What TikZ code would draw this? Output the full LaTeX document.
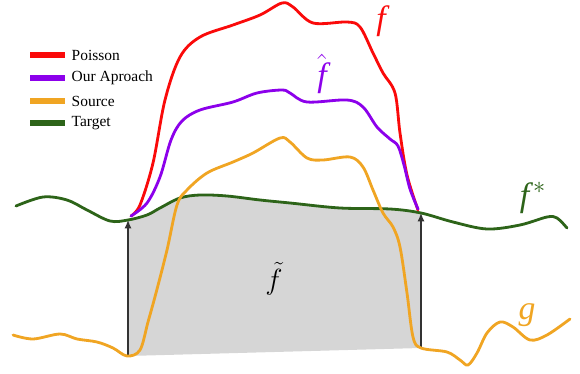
\documentclass[tikz,border=0pt]{standalone}
\usepackage{fontspec}
\setmainfont{Liberation Serif}
\usetikzlibrary{arrows.meta}

\definecolor{poissonred}{RGB}{250,10,10}
\definecolor{oursviolet}{RGB}{140,0,235}
\definecolor{sourceorange}{RGB}{240,165,35}
\definecolor{targetgreen}{RGB}{45,100,25}

\begin{document}
\begin{tikzpicture}[
    x=0.025cm, y=-0.025cm,
    >={Latex[length=6pt,width=5pt]},
    curve/.style={line width=2pt, line cap=round, smooth, tension=0.55},
    swatch/.style={line width=4.2pt},
    legtext/.style={anchor=west, inner sep=1pt,
        font=\fontsize{11}{13}\selectfont},
    lift/.style={->, line width=0.8pt, black!80},
    biglabel/.style={font=\fontsize{24}{28}\selectfont},
    area/.style={fill=gray!32}
]

\useasboundingbox (0,0) rectangle (580,374);

% Eckpunkte des Bereichs
\coordinate (lbot) at (128,356);
\coordinate (ltop) at (128,220);
\coordinate (rbot) at (421,348);
\coordinate (rtop) at (421,213);

% Grauer Bereich (f tilde)
\fill[area] plot[smooth, tension=0.55] coordinates {
    (128,220) (147,215) (160,208) (180,198) (200,195) (227,196)
    (260,200) (290,203) (340,208) (390,209) (421,213)}
    -- (rbot) -- (lbot) -- cycle;

% Pfeile von g nach f*
\draw[lift] (lbot) -- (ltop);
\draw[lift] (rbot) -- (rtop);

% Ziel (Target)
\draw[curve, targetgreen] plot coordinates {
    (16,206) (43,197) (67,200) (87,210) (110,221) (128,220) (147,215)
    (160,208) (180,198) (200,195) (227,196) (260,200) (290,203)
    (340,208) (390,209) (421,213) (453,222) (487,229) (520,225)
    (547,217) (557,218) (567,228)};

% Quelle (Source)
\draw[curve, sourceorange] plot coordinates {
    (13,335) (33,339) (60,334) (77,339) (97,342) (113,348) (127,356)
    (140,350) (148,322) (156,293) (167,250) (177,205) (187,190)
    (207,173) (233,162) (253,153) (280,138) (290,142) (307,158)
    (323,160) (350,157) (363,167) (373,190) (383,213) (393,227)
    (400,247) (407,293) (413,337) (421,348) (447,352) (460,360)
    (468,365) (477,353) (487,333) (500,322) (513,327) (530,340)
    (547,335) (570,319)};

% Poisson
\draw[curve, poissonred] plot coordinates {
    (131,216) (140,205) (153,163) (165,100) (180,57) (200,37)
    (233,25) (260,15) (282,3) (293,7) (313,23) (347,22) (360,27)
    (373,53) (383,73) (395,93) (400,133) (407,175) (418,210)};

% Unser Ansatz
\draw[curve, oursviolet] plot coordinates {
    (131,216) (147,203) (160,177) (171,140) (182,121) (200,110)
    (233,102) (257,93) (282,90) (290,93) (307,102) (347,100)
    (363,107) (377,127) (390,139) (398,146) (404,165) (410,189)
    (418,209)};

% Legende
\draw[swatch, poissonred]   (30,55)  -- (65,55);
\draw[swatch, oursviolet]   (30,78)  -- (65,78);
\draw[swatch, sourceorange] (30,101) -- (65,101);
\draw[swatch, targetgreen]  (30,123) -- (65,123);
\node[legtext] (legpoisson) at (70,55)  {Poisson};
\node[legtext] (legours)    at (70,78)  {Our Aproach};
\node[legtext] (legsource)  at (70,101) {Source};
\node[legtext] (legtarget)  at (70,123) {Target};

% Beschriftungen der Kurven
\node[biglabel, poissonred]   (labf)     at (383,21)  {\textit{f}};
\node[biglabel, oursviolet]   (labfhat)  at (322,74)  {$\hat{\textit{f}}$};
\node[biglabel, targetgreen]  (labfstar) at (533,198) {\textit{f}$^{*}$};
\node[biglabel, sourceorange] (labg)     at (527,315) {\textit{g}};
\node[font=\fontsize{22}{26}\selectfont] (labftilde) at (274,279) {$\tilde{f}$};

\end{tikzpicture}
\end{document}
